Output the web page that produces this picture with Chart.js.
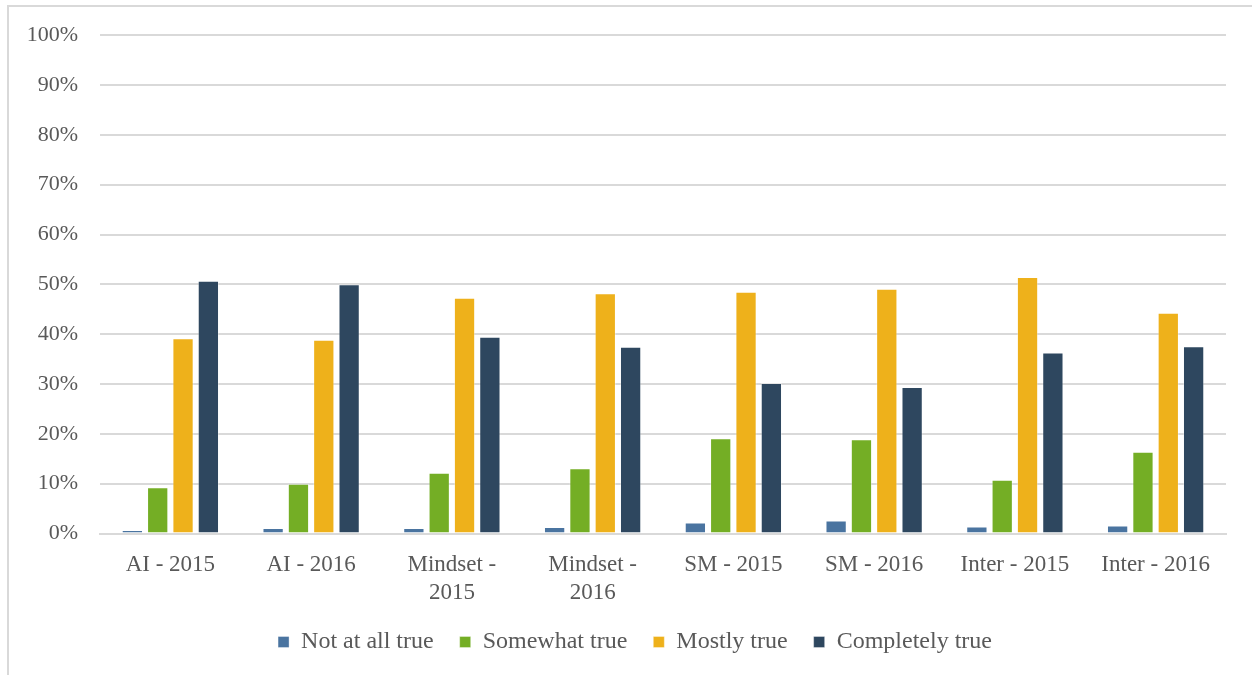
<!DOCTYPE html>
<html>
<head>
<meta charset="utf-8">
<script src="https://cdn.jsdelivr.net/npm/chart.js@4/dist/chart.umd.min.js"></script>
<style>
  html, body { margin: 0; padding: 0; background: #ffffff; }
  #marco {
    position: absolute; left: 7px; top: 5px; width: 1260px; height: 690px;
    border-left: 2px solid #d9d9d9; border-top: 2px solid #d9d9d9;
  }
  #caja { position: absolute; left: 0; top: 0; width: 1252px; height: 675px; }
</style>
</head>
<body>
<div id="marco"></div>
<div id="caja"><canvas id="grafica"></canvas></div>
<script>
// categorias (dos lineas donde el rotulo no cabe)
const categorias = [
  'AI - 2015', 'AI - 2016',
  ['Mindset -', '2015'], ['Mindset -', '2016'],
  'SM - 2015', 'SM - 2016',
  'Inter - 2015', 'Inter - 2016'
];

// porcentajes por respuesta
const nadaCierto     = [0.7, 1.1, 1.1, 1.3, 2.2, 2.6, 1.4, 1.6];
const algoCierto     = [9.3, 10.0, 12.2, 13.1, 19.1, 18.9, 10.8, 16.4];
const bastanteCierto = [39.2, 38.9, 47.3, 48.2, 48.5, 49.1, 51.5, 44.3];
const totalCierto    = [50.7, 50.0, 39.5, 37.5, 30.2, 29.4, 36.3, 37.6];

const nombresSerie = ['Not at all true', 'Somewhat true', 'Mostly true', 'Completely true'];
const colores = ['#4a74a0', '#74ae25', '#eeb11b', '#2e475f'];
const marcasY = [0, 10, 20, 30, 40, 50, 60, 70, 80, 90, 100];

const serif = '"Liberation Serif", "Times New Roman", serif';
const gris = '#595959';

const series = [nadaCierto, algoCierto, bastanteCierto, totalCierto];

// centra la leyenda sobre el area de barras y no sobre todo el lienzo
const moverLeyenda = {
  id: 'moverLeyenda',
  afterLayout(chart) {
    chart.legend.left += 22;
    chart.legend.right += 22;
  }
};

new Chart(document.getElementById('grafica'), {
  type: 'bar',
  data: {
    labels: categorias,
    datasets: series.map((valores, i) => ({
      label: nombresSerie[i],
      data: valores,
      backgroundColor: colores[i],
      borderColor: 'rgba(255,255,255,0.35)',
      borderWidth: 1,
      categoryPercentage: 0.72,
      barPercentage: 0.84
    }))
  },
  options: {
    responsive: true,
    maintainAspectRatio: false,
    animation: false,
    layout: { padding: { top: 22, right: 26, bottom: 11, left: 0 } },
    scales: {
      y: {
        min: 0, max: 100,
        afterFit: s => { s.width = 100; },
        afterBuildTicks: s => { s.ticks = marcasY.map(v => ({ value: v })); },
        ticks: { color: gris, font: { family: serif, size: 22 }, padding: 22, callback: v => v + '%' },
        grid: { color: '#d9d9d9', lineWidth: 2, drawTicks: false },
        border: { display: false }
      },
      x: {
        afterFit: s => { s.height = 70.5; },
        ticks: { color: gris, font: { family: serif, size: 23 }, padding: 10, maxRotation: 0, autoSkip: false },
        grid: { display: false },
        border: { color: '#d9d9d9', width: 2 }
      }
    },
    plugins: {
      legend: {
        position: 'bottom',
        labels: { color: gris, font: { family: serif, size: 24 }, boxWidth: 11, boxHeight: 11, padding: 26 }
      },
      tooltip: { enabled: false }
    }
  },
  plugins: [moverLeyenda]
});
</script>
</body>
</html>
